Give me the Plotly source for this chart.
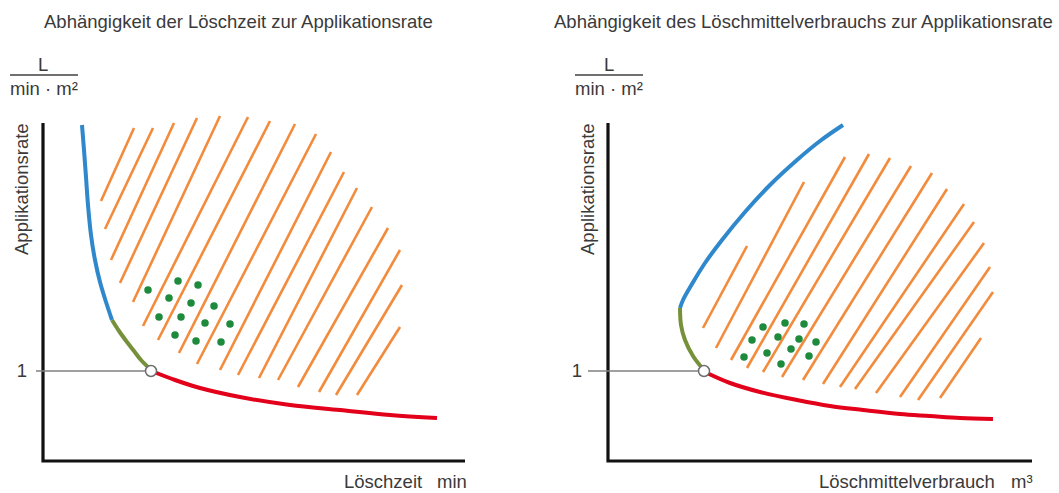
import plotly.graph_objects as go

W, H = 1059, 493

# ---------------- data (arbitrary units; y = Applikationsrate, 1 = reference) ----------------
# Left panel: Löschzeit vs Applikationsrate
L_blue_x = [0.39, 0.41, 0.43, 0.45, 0.48, 0.52, 0.57, 0.63, 0.69]
L_blue_y = [3.46, 3.21, 2.94, 2.66, 2.36, 2.11, 1.89, 1.69, 1.51]
L_green_x = [0.69, 0.76, 0.84, 0.91, 0.98, 1.07]
L_green_y = [1.51, 1.40, 1.29, 1.20, 1.11, 1.02]
L_red_x = [1.11, 1.32, 1.57, 1.97, 2.47, 2.97, 3.47, 3.94]
L_red_y = [0.99, 0.91, 0.83, 0.74, 0.66, 0.61, 0.56, 0.53]
L_opt = (1.08, 1.0)
L_hatch_top_x = [0.91, 1.10, 1.31, 1.54, 1.77, 2.05, 2.27, 2.52, 2.73, 2.88, 3.01, 3.14, 3.29, 3.45, 3.57, 3.59, 3.57]
L_hatch_top_y = [3.43, 3.43, 3.48, 3.53, 3.55, 3.54, 3.50, 3.47, 3.37, 3.19, 2.99, 2.83, 2.64, 2.43, 2.21, 1.86, 1.44]
L_hatch_bot_x = [0.58, 0.62, 0.68, 0.77, 0.90, 1.00, 1.15, 1.36, 1.54, 1.77, 1.95, 2.16, 2.35, 2.55, 2.76, 2.93, 3.14]
L_hatch_bot_y = [2.70, 2.42, 2.11, 1.88, 1.69, 1.45, 1.31, 1.18, 1.07, 1.01, 0.96, 0.93, 0.91, 0.84, 0.79, 0.76, 0.76]
L_dots_x = [1.05, 1.35, 1.55, 1.26, 1.48, 1.71, 1.16, 1.38, 1.62, 1.87, 1.32, 1.53, 1.78]
L_dots_y = [1.81, 1.90, 1.86, 1.73, 1.68, 1.65, 1.54, 1.54, 1.48, 1.47, 1.36, 1.30, 1.29]

# Right panel: Löschmittelverbrauch vs Applikationsrate
R_blue_x = [2.35, 2.12, 1.89, 1.62, 1.37, 1.14, 0.97, 0.84, 0.75, 0.72]
R_blue_y = [3.46, 3.30, 3.11, 2.86, 2.59, 2.31, 2.08, 1.87, 1.71, 1.63]
R_green_x = [0.72, 0.73, 0.77, 0.85, 0.95]
R_green_y = [1.63, 1.46, 1.31, 1.15, 1.02]
R_red_x = [0.99, 1.22, 1.52, 1.89, 2.22, 2.55, 2.92, 3.22, 3.52, 3.85]
R_red_y = [0.98, 0.88, 0.79, 0.71, 0.65, 0.61, 0.57, 0.55, 0.53, 0.52]
R_opt = (0.96, 1.0)
R_hatch_top_x = [1.39, 1.96, 2.37, 2.61, 2.82, 3.03, 3.24, 3.39, 3.56, 3.66, 3.76, 3.82, 3.85, 3.73]
R_hatch_top_y = [2.25, 2.89, 3.14, 3.17, 3.13, 3.05, 2.98, 2.82, 2.67, 2.49, 2.28, 2.04, 1.79, 1.33]
R_hatch_bot_x = [0.95, 1.08, 1.23, 1.39, 1.55, 1.74, 1.95, 2.15, 2.32, 2.47, 2.68, 2.92, 3.10, 3.32]
R_hatch_bot_y = [1.43, 1.23, 1.11, 1.03, 0.99, 0.94, 0.91, 0.87, 0.84, 0.82, 0.78, 0.74, 0.71, 0.73]
R_dots_x = [1.55, 1.77, 1.96, 1.44, 1.70, 1.91, 2.08, 1.36, 1.59, 1.83, 2.01, 1.73]
R_dots_y = [1.44, 1.48, 1.47, 1.31, 1.34, 1.32, 1.29, 1.14, 1.18, 1.22, 1.15, 1.07]

Y_TICK = [1]
Y_TICKTEXT = ["1"]

# ---------------- styling ----------------
BLUE = "#2f88cc"
OLIVE = "#76913a"
RED = "#e2001a"
ORANGE = "#f28b3c"
DOT = "#1d8a3c"
TXT = "#3a3a3a"
GRAY = "#808080"
FONT = "Liberation Sans"
FS = 18.5

AX_BOTTOM, AX_TOP = 0.10, 3.48
L_AX_END, R_AX_END = 4.22, 4.24


def segments(x0, y0, x1, y1):
    xs, ys = [], []
    for a, b, c, d in zip(x0, y0, x1, y1):
        xs += [a, c, None]
        ys += [b, d, None]
    return xs, ys


def px(x):
    return x / W


def py(y):
    return 1 - y / H


fig = go.Figure()


def panel(xa, ya, blue, green, red, opt, htop, hbot, dots, ax_end, gray_start):
    hx, hy = segments(htop[0], htop[1], hbot[0], hbot[1])
    fig.add_trace(go.Scatter(x=hx, y=hy, mode="lines", line=dict(color=ORANGE, width=2.6),
                             xaxis=xa, yaxis=ya, hoverinfo="skip"))
    fig.add_trace(go.Scatter(x=dots[0], y=dots[1], mode="markers",
                             marker=dict(color=DOT, size=7.5), xaxis=xa, yaxis=ya))
    fig.add_trace(go.Scatter(x=[0, 0, ax_end], y=[AX_TOP, AX_BOTTOM, AX_BOTTOM], mode="lines",
                             line=dict(color="#111111", width=3.2), xaxis=xa, yaxis=ya))
    fig.add_trace(go.Scatter(x=[gray_start, opt[0]], y=[opt[1], opt[1]], mode="lines",
                             line=dict(color=GRAY, width=1.3), xaxis=xa, yaxis=ya))
    for (cx, cy), col in ((blue, BLUE), (green, OLIVE), (red, RED)):
        fig.add_trace(go.Scatter(x=cx, y=cy, mode="lines", line=dict(color=col, width=4, shape="spline"),
                                 xaxis=xa, yaxis=ya))
    fig.add_trace(go.Scatter(x=[opt[0]], y=[opt[1]], mode="markers",
                             marker=dict(color="white", size=11, line=dict(color="#6e6e6e", width=1.5)),
                             xaxis=xa, yaxis=ya))


panel("x", "y", (L_blue_x, L_blue_y), (L_green_x, L_green_y), (L_red_x, L_red_y), L_opt,
      (L_hatch_top_x, L_hatch_top_y), (L_hatch_bot_x, L_hatch_bot_y), (L_dots_x, L_dots_y),
      L_AX_END, -0.07)
panel("x2", "y2", (R_blue_x, R_blue_y), (R_green_x, R_green_y), (R_red_x, R_red_y), R_opt,
      (R_hatch_top_x, R_hatch_top_y), (R_hatch_bot_x, R_hatch_bot_y), (R_dots_x, R_dots_y),
      R_AX_END, -0.20)

yd = [py(471), py(106)]
yax = dict(range=[0, 3.65], domain=yd, showgrid=False, zeroline=False, showline=False,
           tickvals=Y_TICK, ticktext=Y_TICKTEXT, ticks="", tickfont=dict(family=FONT, size=FS, color=TXT),
           fixedrange=True)
fig.update_layout(
    width=W, height=H, margin=dict(l=0, r=0, t=0, b=0),
    paper_bgcolor="white", plot_bgcolor="white", showlegend=False,
    xaxis=dict(range=[-0.15, 4.35], domain=[px(28), px(478)], visible=False),
    xaxis2=dict(range=[-0.25, 4.35], domain=[px(583), px(1043)], visible=False),
    yaxis=dict(anchor="x", **yax),
    yaxis2=dict(anchor="x2", **yax),
)

# (text, x px, y px, angle, yanchor)
annots = [
    ("Abhängigkeit der Löschzeit zur Applikationsrate", 238, 21, 0, "middle"),
    ("Abhängigkeit des Löschmittelverbrauchs zur Applikationsrate", 803, 21, 0, "middle"),
    ("Applikationsrate", 21, 189, -90, "middle"),
    ("Applikationsrate", 587, 189, -90, "middle"),
    ("L", 43, 64, 0, "middle"),
    ("min · m²", 44, 88, 0, "middle"),
    ("L", 609, 64, 0, "middle"),
    ("min · m²", 609, 88, 0, "middle"),
    ("Löschzeit", 383, 493, 0, "bottom"),
    ("min", 452, 493, 0, "bottom"),
    ("Löschmittelverbrauch", 907, 493, 0, "bottom"),
    ("m³", 1022, 493, 0, "bottom"),
]
for text, x, y, ang, ya in annots:
    fig.add_annotation(text=text, x=px(x), y=py(y), xref="paper", yref="paper",
                       showarrow=False, textangle=ang, xanchor="center", yanchor=ya, borderpad=0,
                       font=dict(family=FONT, size=FS, color=TXT))

for x0, x1 in ((10, 78), (575, 643)):
    fig.add_shape(type="line", xref="paper", yref="paper", x0=px(x0), x1=px(x1), y0=py(75), y1=py(75),
                  line=dict(color="#707070", width=2))

fig.write_html("out.html", config={"displayModeBar": False},
               post_script="document.body.style.margin='0px';document.body.style.overflow='hidden';")
